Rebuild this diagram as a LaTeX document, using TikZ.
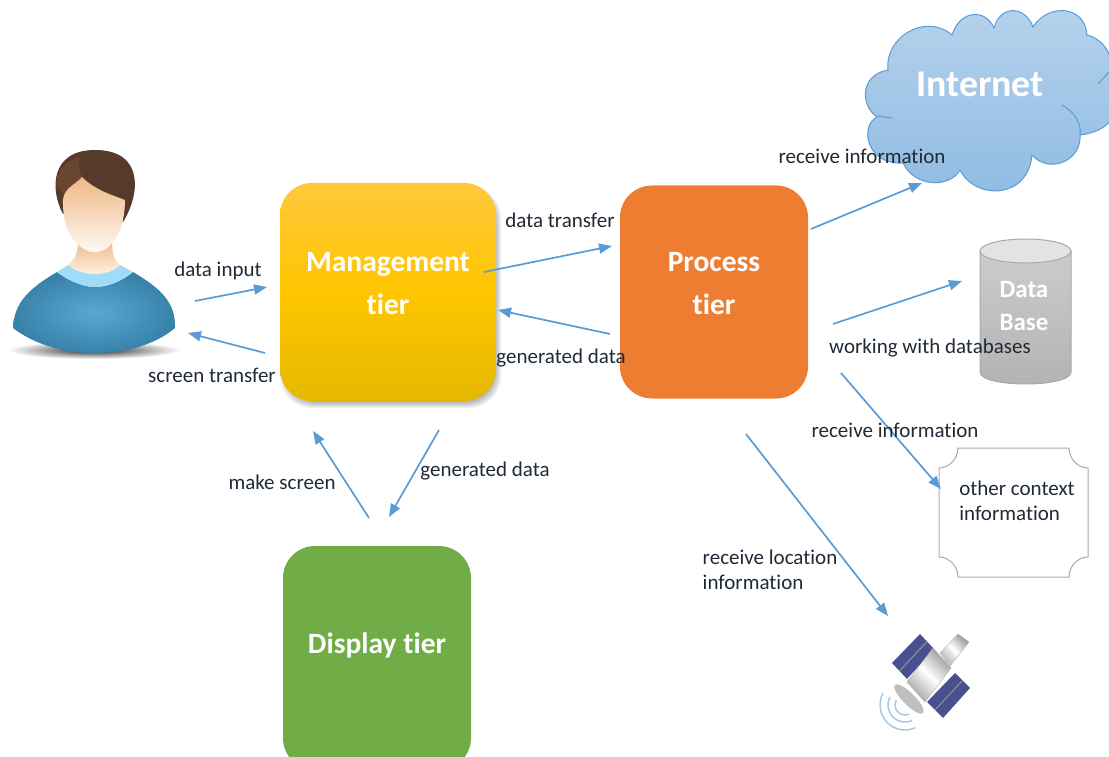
\documentclass[tikz,border=0pt]{standalone}
\usepackage{fontspec}
\setmainfont{Carlito}[RawFeature={-liga;-clig}]
\usepackage{xcolor}
\usetikzlibrary{positioning,arrows.meta,calc}
\definecolor{arrowBlue}{HTML}{5B9BD5}
\definecolor{textDark}{HTML}{1F2A36}
\definecolor{planOrange}{HTML}{ED7D31}
\definecolor{planGreen}{HTML}{70AD47}
\definecolor{planEdge}{HTML}{A9A9A9}
\definecolor{hairBrown}{HTML}{573A2B}
\definecolor{hairLight}{HTML}{6A4630}
\definecolor{panelBlue}{HTML}{4A4F8F}
\definecolor{shirtLight}{HTML}{5AA8D2}
\definecolor{shirtDark}{HTML}{3882AA}
\definecolor{collarBlue}{HTML}{A0DCF8}
\definecolor{goldTop}{HTML}{FFC83C}
\definecolor{goldMid}{HTML}{FFC600}
\definecolor{goldLow}{HTML}{E5B800}
\tikzstyle{tierBox}  =[rounded corners=32pt,text=white,align=center,font=\fontsize{29.5}{43}\selectfont\bfseries]
\tikzstyle{linkArrow}=[-{Triangle[length=13pt,width=10pt]},draw=arrowBlue,line width=1.7pt]
\tikzstyle{linkText} =[text=textDark,align=left,inner sep=0pt,font=\fontsize{21}{25}\selectfont]
\begin{document}
\begin{tikzpicture}[x=1pt,y=-1pt,on grid]
      \clip (0,0) rectangle (1109,757);
      % person
      \shade[inner color=black!85,outer color=white] (94,350) ellipse (86 and 9);
      \fill[hairBrown] (63,214) .. controls (50,190) and (50,150) .. (95,150)
        .. controls (145,150) and (140,195) .. (123,222) -- (100,200) -- cycle;
      \fill[hairLight] (82,177) .. controls (76,165) and (80,158) .. (82,156)
        .. controls (66,160) and (56,172) .. (56,184) -- (64,195) -- cycle;
      \shade[top color=orange!45!brown!55!white,bottom color=orange!8] (78,240) -- (112,240)
        .. controls (112,255) and (115,262) .. (120,265) .. controls (110,277) and (80,277) .. (68,265)
        .. controls (74,260) and (78,255) .. (78,240) -- cycle;
      \shade[top color=orange!50!brown!55!white,bottom color=orange!5] (82,177)
        .. controls (75,185) and (64,188) .. (63,200) .. controls (62,232) and (78,252) .. (95,252)
        .. controls (112,252) and (125,230) .. (125,200) .. controls (112,195) and (95,190) .. (82,177) -- cycle;
      \shade[inner color=shirtLight,outer color=shirtDark] (57,272)
        .. controls (70,282) and (85,287) .. (95,287) .. controls (108,287) and (122,281) .. (133,272)
        .. controls (160,288) and (176,302) .. (175,328) .. controls (155,345) and (125,353) .. (94,353)
        .. controls (65,353) and (35,345) .. (13,328) .. controls (14,302) and (30,288) .. (57,272) -- cycle;
      \fill[collarBlue] (57,272) -- (68,265) .. controls (80,277) and (110,277) .. (120,265)
        -- (133,272) .. controls (122,281) and (108,287) .. (95,287) .. controls (85,287) and (70,282) .. (57,272) -- cycle;
      % soft shadow of the management box
      \foreach \s in {0,1,...,6}
        \fill[black,opacity=.05,rounded corners=32pt] (280+\s,186+\s) rectangle (501-\s,408-\s);
      % tiers
      \node[tierBox,minimum width=216pt,minimum height=218pt,text depth=18pt,
        top color=goldTop,bottom color=goldLow,middle color=goldMid] (manage) at (388,292) {Management\\tier};
      \node[tierBox,minimum width=188pt,minimum height=213pt,text depth=18pt,fill=planOrange] (process) [right = 326pt of manage] {Process\\tier};
      \node[tierBox,minimum width=188pt,minimum height=224pt,text depth=30pt,fill=planGreen] (display) [below left = 366pt and 11pt of manage] {Display tier};
      % cloud
      \shade[top color=arrowBlue!45!white,bottom color=arrowBlue!68!white,draw=arrowBlue,line width=1pt] (888,70)
        .. controls (884,38) and (925,12) .. (952,35) .. controls (960,10) and (985,8) .. (994,28)
        .. controls (1000,5) and (1025,5) .. (1033,27) .. controls (1048,3) and (1085,5) .. (1087,35)
        .. controls (1100,38) and (1112,50) .. (1112,70) .. controls (1125,100) and (1120,130) .. (1080,135)
        .. controls (1082,160) and (1050,175) .. (1032,155) .. controls (1028,200) and (975,200) .. (960,170)
        .. controls (950,188) and (915,188) .. (903,163) .. controls (865,165) and (860,125) .. (877,117)
        .. controls (860,105) and (860,75) .. (888,70) -- cycle;
      \draw[arrowBlue,line width=1pt] (877,116) -- (892,118);
      \draw[arrowBlue,line width=1pt] (1062,105) .. controls (1075,112) and (1082,125) .. (1080,135);
      \draw[arrowBlue,line width=1pt] (1109,72) -- (1098,84);
      \node[text=white,font=\fontsize{37.8}{40}\selectfont\bfseries] (internet) at (980,84) {Internet};
      % database
      \shade[top color=black!20,bottom color=black!30,draw=planEdge,line width=1pt] (980,251) -- (980,372)
        .. controls (980,388) and (1071,388) .. (1071,372) -- (1071,251) -- cycle;
      \draw[fill=black!11,draw=planEdge,line width=1pt] (1025.5,251) ellipse (45.5 and 12);
      \node[text=white,align=center,font=\fontsize{25}{33}\selectfont\bfseries] (dbase) at (1024,306) {Data\\Base};
      % context box
      \draw[planEdge,line width=1pt] (958,448) -- (1069,448) .. controls (1069,459) and (1078,468) .. (1088,468)
        -- (1088,557) .. controls (1078,557) and (1069,566) .. (1069,577) -- (958,577)
        .. controls (958,566) and (949,557) .. (939,557) -- (939,468) .. controls (949,468) and (958,459) .. (958,448) -- cycle;
      % satellite
      \foreach \a/\b/\c/\d in {920/634/934/649,955/673/970/688} {
        \fill[panelBlue] (\a,\b) -- (\c,\d) -- (\c-27,\d+30) -- (\a-28,\b+29) -- cycle;
        \draw[black!45,line width=1.2pt] ($(\a,\b)!.5!(\c,\d)$) -- ($(\a-28,\b+29)!.5!(\c-27,\d+30)$);
      }
      \shade[left color=black!40,right color=black!35,middle color=white,shading angle=-45,draw=black!30] (933,648) -- (951,668) -- (925,702) -- (907,682) -- cycle;
      \shade[left color=black!40,right color=black!30,middle color=white,shading angle=-45,draw=black!30] (958,634) -- (969,642) -- (950,666) -- (940,653) -- cycle;
      \fill[black!25,rotate around={-45:(909,699)}] (909,699) ellipse (20 and 6);
      \foreach \r in {10,17,25}
        \draw[arrowBlue!55!white,line width=1.5pt] (905,705) ++(65:\r) arc[start angle=65,end angle=208,radius=\r];
      % free ends of the arrows
      \coordinate (inA) at (195,301);
      \coordinate (inB) at (267,287);
      \coordinate (scrA) at (265,353);
      \coordinate (scrB) at (188,333);
      \coordinate (trA) at (484,272);
      \coordinate (trB) at (612,246);
      \coordinate (genA) at (610,334);
      \coordinate (genB) at (498,310);
      \coordinate (mkA) at (369,518);
      \coordinate (mkB) at (313,431);
      \coordinate (dsA) at (439,430);
      \coordinate (dsB) at (389,517);
      \coordinate (netA) at (811,229);
      \coordinate (netB) at (922,183);
      \coordinate (dbA) at (833,324);
      \coordinate (dbB) at (962,281);
      \coordinate (ctxA) at (841,373);
      \coordinate (ctxB) at (941,489);
      \coordinate (satA) at (746,434);
      \coordinate (satB) at (888,616);
      \foreach \from/\to in {inA/inB,scrA/scrB,trA/trB,genA/genB,mkA/mkB,dsA/dsB,netA/netB,dbA/dbB,ctxA/ctxB,satA/satB}
        \draw[linkArrow] (\from) -- (\to);
      % labels
      \node[linkText] (lInput) at (218,271) {data input};
      \node[linkText] (lScreen) at (212,375) {screen transfer};
      \node[linkText] (lTrans) at (560,220) {data transfer};
      \node[linkText] (lGen) at (561,358) {generated data};
      \node[linkText] (lMake) at (282,482) {make screen};
      \node[linkText] (lDisp) at (485,471) {generated data};
      \node[linkText] (lNet) at (862,156) {receive information};
      \node[linkText] (lBase) at (930,348) {working with databases};
      \node[linkText] (lCtx) at (895,430) {receive information};
      \node[linkText] (lOther) at (1017,501) {other context\\information};
      \node[linkText] (lSat) at (770,570) {receive location\\information};
\end{tikzpicture}
\end{document}
